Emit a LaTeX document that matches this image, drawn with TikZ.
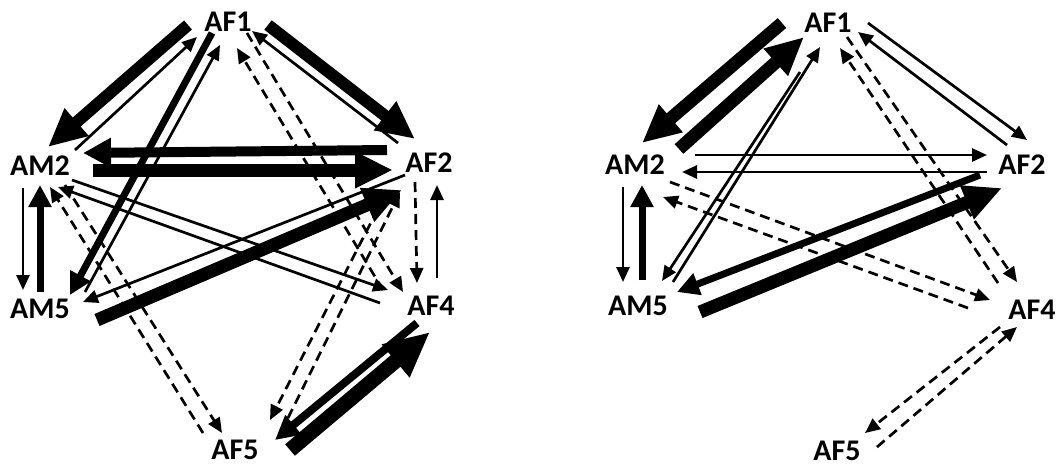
\documentclass[tikz,border=0pt]{standalone}
\usepackage{fontspec}
\setmainfont{Carlito}
\usetikzlibrary{arrows.meta,calc}
\tikzset{
  lbl/.style={inner sep=0pt, font=\bfseries\fontsize{30}{30}\selectfont},
  thn/.style={line width=2.7pt, -{Triangle[length=15pt,width=13pt]}},
  dsh/.style={thn, dash pattern=on 10pt off 6pt},
  med/.style={line width=7pt, -{Triangle[length=22pt,width=22pt]}},
  thk/.style={line width=12pt, -{Triangle[length=38pt,width=34pt]}},
  vthk/.style={line width=15pt, -{Triangle[length=45pt,width=40pt]}}
}
\begin{document}
\begin{tikzpicture}[x=1pt,y=-1pt]
\useasboundingbox (0,0) rectangle (1056,467);
% left graph
\node[lbl] (L1) at (228,22) {AF1};
\node[lbl] (L2) at (40,166) {AM2};
\node[lbl] (L3) at (429,163) {AF2};
\node[lbl] (L4) at (431,306) {AF4};
\node[lbl] (L5) at (40,309) {AM5};
\node[lbl] (L6) at (235,450) {AF5};
\draw[thk] ($(L1)+(-40,3)$) -- ($(L2)+(8,-19)$);
\draw[thn] ($(L2)+(35,-16)$) -- ($(L1)+(-31,15)$);
\draw[thk] ($(L1)+(40,3)$) -- ($(L3)+(-14,-24)$);
\draw[thn] ($(L3)+(-31,-20)$) -- ($(L1)+(24,9)$);
\draw[med] ($(L1)+(-16,11)$) -- ($(L5)+(30,-14)$);
\draw[thn] ($(L5)+(45,-17)$) -- ($(L1)+(-8,23)$);
\draw[thk, line width=10pt, -{Triangle[length=28pt,width=28pt]}] ($(L3)+(-42,-13)$) -- ($(L2)+(43,-13)$);
\draw[thk, line width=13pt] ($(L2)+(53,4)$) -- ($(L3)+(-36,7)$);
\draw[thn] ($(L2)+(32,14)$) -- ($(L4)+(-43,-16)$);
\draw[thn] ($(L4)+(-51,-3)$) -- ($(L2)+(18,21)$);
\draw[thk, line width=13pt] ($(L5)+(57,11)$) -- ($(L3)+(-27,27)$);
\draw[thn] ($(L3)+(-24,12)$) -- ($(L5)+(43,-7)$);
\draw[dsh] ($(L2)+(25,19)$) -- ($(L6)+(-13,-17)$);
\draw[dsh] ($(L6)+(-32,-17)$) -- ($(L2)+(10,21)$);
\draw[dsh] ($(L1)+(19,11)$) -- ($(L4)+(-28,-14)$);
\draw[dsh] ($(L4)+(-48,-16)$) -- ($(L1)+(9,26)$);
\draw[dsh] ($(L3)+(-14,19)$) -- ($(L4)+(-14,-23)$);
\draw[thn] ($(L4)+(6,-28)$) -- ($(L3)+(8,22)$);
\draw[thn] ($(L2)+(-17,22)$) -- ($(L5)+(-17,-19)$);
\draw[med] ($(L5)+(0,-17)$) -- ($(L2)+(0,19)$);
\draw[dsh] ($(L3)+(-44,32)$) -- ($(L6)+(35,-30)$);
\draw[dsh] ($(L6)+(53,-32)$) -- ($(L3)+(-29,29)$);
\draw[med, line width=8pt, -{Triangle[length=24pt,width=24pt]}] ($(L4)+(-14,17)$) -- ($(L6)+(40,-10)$);
\draw[vthk] ($(L6)+(55,0)$) -- ($(L4)+(-1,26)$);
% right graph
\node[lbl] (R1) at (828,23) {AF1};
\node[lbl] (R2) at (635,165) {AM2};
\node[lbl] (R3) at (1022,165) {AF2};
\node[lbl] (R4) at (1032,310) {AF4};
\node[lbl] (R5) at (638,306) {AM5};
\node[lbl] (R6) at (837,451) {AF5};
\draw[thk, line width=13pt] ($(R1)+(-46,0)$) -- ($(R2)+(7,-22)$);
\draw[thk, line width=13pt] ($(R2)+(44,-16)$) -- ($(R1)+(-24,14)$);
\draw[thn] ($(R1)+(40,0)$) -- ($(R3)+(5,-25)$);
\draw[thn] ($(R3)+(-15,-20)$) -- ($(R1)+(30,9)$);
\draw[thn] ($(R1)+(-28,49)$) -- ($(R5)+(24,-25)$);
\draw[thn] ($(R5)+(35,-24)$) -- ($(R1)+(-8,24)$);
\draw[thn] ($(R2)+(60,-10)$) -- ($(R3)+(-35,-10)$);
\draw[thn] ($(R3)+(-35,7)$) -- ($(R2)+(47,7)$);
\draw[dsh] ($(R4)+(-64,-2)$) -- ($(R2)+(28,32)$);
\draw[dsh] ($(R2)+(35,17)$) -- ($(R4)+(-42,-10)$);
\draw[med] ($(R3)+(-42,10)$) -- ($(R5)+(39,-14)$);
\draw[thk, line width=13pt] ($(R5)+(62,6)$) -- ($(R3)+(-20,23)$);
\draw[dsh] ($(R1)+(19,14)$) -- ($(R4)+(-15,-28)$);
\draw[dsh] ($(R4)+(-34,-27)$) -- ($(R1)+(12,25)$);
\draw[thn] ($(R2)+(-12,22)$) -- ($(R5)+(-15,-24)$);
\draw[med] ($(R5)+(4,-26)$) -- ($(R2)+(7,20)$);
\draw[dsh] ($(R4)+(-32,17)$) -- ($(R6)+(28,-18)$);
\draw[dsh] ($(R6)+(40,-4)$) -- ($(R4)+(-15,17)$);
\end{tikzpicture}
\end{document}
